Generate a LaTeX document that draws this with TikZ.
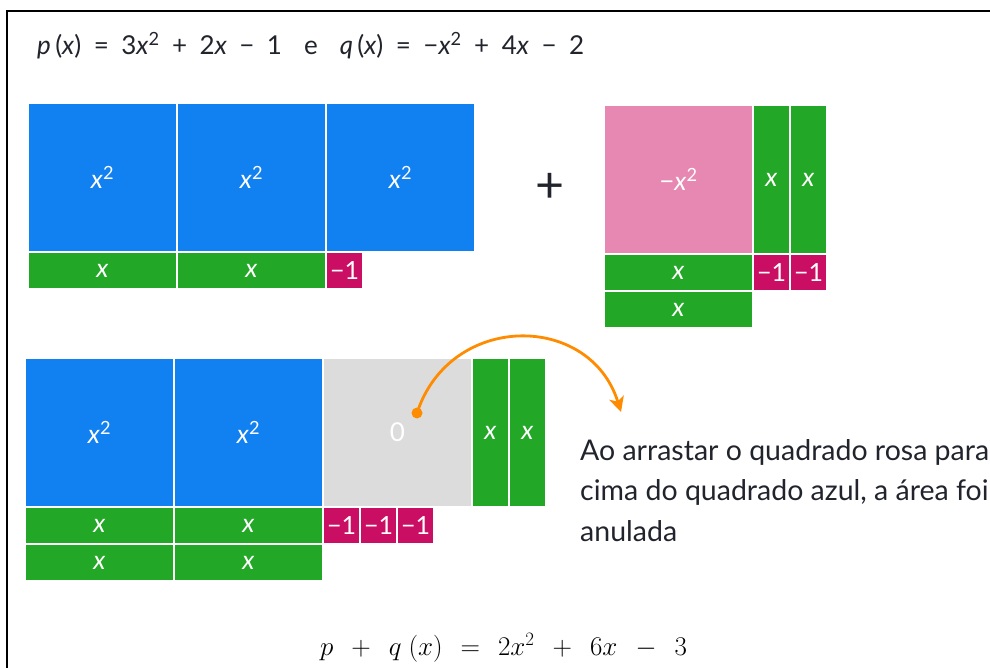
\documentclass[tikz,border=0pt]{standalone}
\usepackage{fix-cm}
\usepackage[no-math]{fontspec}
\setmainfont{Lato}
\usetikzlibrary{arrows.meta}

\definecolor{tileblue}{RGB}{17,128,240}
\definecolor{tilegreen}{RGB}{34,167,38}
\definecolor{tilepink}{RGB}{230,136,178}
\definecolor{tileneg}{RGB}{202,14,100}
\definecolor{tilegray}{RGB}{220,220,220}
\definecolor{dragorange}{RGB}{255,140,0}
\definecolor{inkdark}{RGB}{33,36,44}

\newcommand{\vx}{\textit{x}}
\newcommand{\sqx}{\textit{x}\textsuperscript{2}}

\begin{document}
\begin{tikzpicture}[x=1pt,y=-1pt,
    tile/.style={draw=white, line width=1.5pt},
    lab/.style={text=white, font=\fontsize{26}{26}\selectfont},
    labnum/.style={text=white, font=\fontsize{25}{25}\selectfont},
    formula/.style={text=inkdark, inner sep=0pt, font=\fontsize{26}{26}\selectfont},
    txt/.style={text=inkdark, font=\fontsize{28.5}{40.5}\selectfont, inner sep=0pt},
    dragarrow/.style={dragorange, line width=2.8pt,
      -{Stealth[length=15pt,width=15pt,inset=4pt]}}]
    \useasboundingbox (0,0) rectangle (990,668);
    \clip (0,0) rectangle (990,668);
    \draw[line width=1.6pt] (7,11) rectangle (1100,800);

    % p(x) e q(x)
    \node[formula, anchor=base west] (defs) at (37,55)
      {\spaceskip=12.5pt
       \textit{p}\,(\vx) = 3\sqx{} + 2\vx{} − 1\hspace{22pt}e\hspace{22pt}\textit{q}\,(\vx) = −\sqx{} + 4\vx{} − 2};

    % p(x): 3 squares, 2 bars, one -1
    \foreach \i/\x in {1/28,2/177,3/326} {
      \fill[tileblue, tile] (\x,103) rectangle ++(149,149);
      \node[lab] (psq\i) at (\x+74.5,177.5) {\sqx};
    }
    \foreach \i/\x in {1/28,2/177} {
      \fill[tilegreen, tile] (\x,252) rectangle ++(149,37);
      \node[lab] (pbar\i) at (\x+74.5,270.5) {\vx};
    }
    \fill[tileneg, tile] (326,252) rectangle ++(37,37);
    \node[labnum] (pone) at (344.5,270.5) {−1};

    \node[text=inkdark, font=\fontsize{50}{50}\selectfont] (plus) at (550,188) {+};

    % q(x): -x^2, 4 bars, two -1
    \fill[tilepink, tile] (604,105) rectangle ++(149,149);
    \node[lab] (qsq) at (678.5,179.5) {−\sqx};
    \foreach \i/\x in {1/753,2/790} {
      \fill[tilegreen, tile] (\x,105) rectangle ++(37,149);
      \node[lab] (qvbar\i) at (\x+18.5,179.5) {\vx};
      \fill[tileneg, tile] (\x,254) rectangle ++(37,37);
      \node[labnum] (qone\i) at (\x+18.5,272.5) {−1};
    }
    \foreach \i/\y in {1/254,2/291} {
      \fill[tilegreen, tile] (604,\y) rectangle ++(149,37);
      \node[lab] (qbar\i) at (678.5,\y+18.5) {\vx};
    }

    % sum: blue + pink cancel to 0
    \foreach \i/\x in {1/25,2/174} {
      \fill[tileblue, tile] (\x,358) rectangle ++(149,149);
      \node[lab] (ssq\i) at (\x+74.5,432.5) {\sqx};
      \fill[tilegreen, tile] (\x,507) rectangle ++(149,37);
      \node[lab] (sbar\i) at (\x+74.5,525.5) {\vx};
      \fill[tilegreen, tile] (\x,544) rectangle ++(149,37);
      \node[lab] (sbarb\i) at (\x+74.5,562.5) {\vx};
    }
    \fill[tilegray, tile] (323,358) rectangle ++(149,149);
    \node[lab] (zero) at (397.5,432.5) {0};
    \foreach \i/\x in {1/472,2/509} {
      \fill[tilegreen, tile] (\x,358) rectangle ++(37,149);
      \node[lab] (svbar\i) at (\x+18.5,432.5) {\vx};
    }
    \foreach \i/\x in {1/323,2/360,3/397} {
      \fill[tileneg, tile] (\x,507) rectangle ++(37,37);
      \node[labnum] (sone\i) at (\x+18.5,525.5) {−1};
    }

    % drag arrow
    \coordinate (drag) at (417,413);
    \coordinate (drop) at (621,412);
    \fill[dragorange] (drag) circle (5.5);
    \draw[dragarrow] (drag) .. controls (450,312) and (590,312) .. (drop);

    \node[txt, anchor=base west, align=left] (note) at (580,541)
      {Ao arrastar o quadrado rosa para\\cima do quadrado azul, a área foi\\anulada};

    \node[anchor=base west, inner sep=0pt, text=black, font=\fontsize{27}{27}\selectfont] (result) at (320,655)
      {\medmuskip=12mu \thickmuskip=12mu $p+q\ (x)=2x^2+6x-3$};
\end{tikzpicture}
\end{document}
